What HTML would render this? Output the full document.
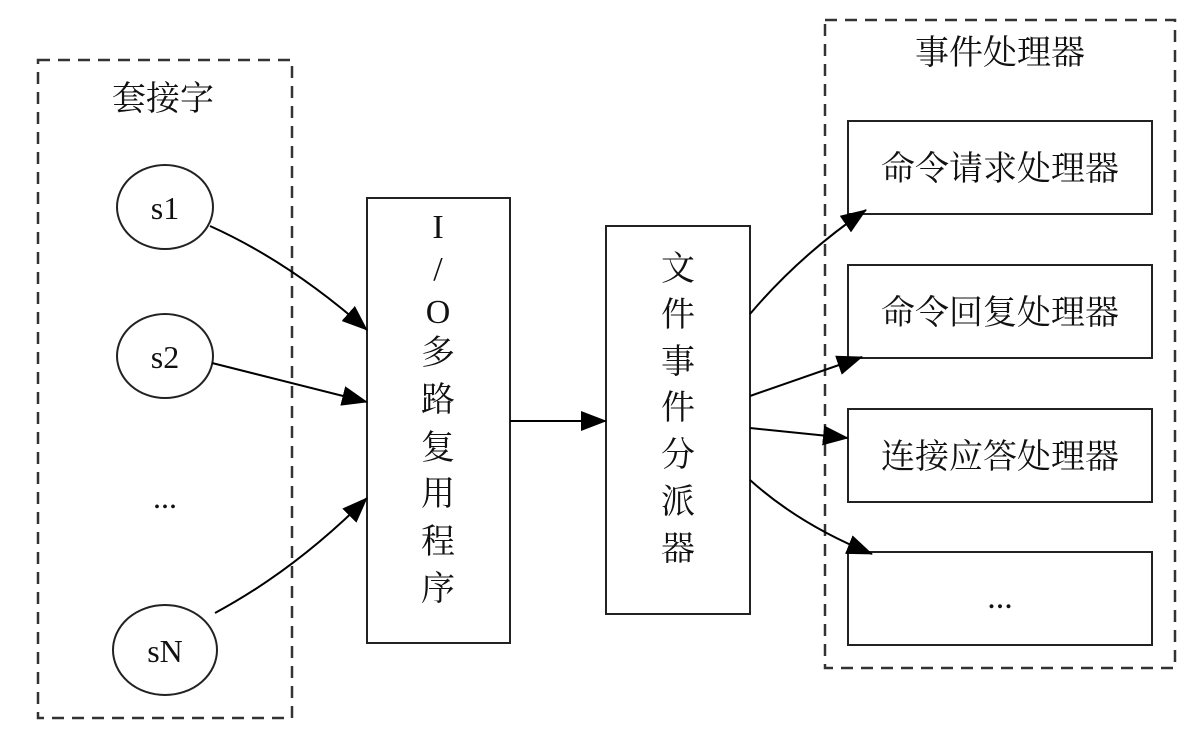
<!DOCTYPE html>
<html><head><meta charset="utf-8"><style>
html,body{margin:0;padding:0;background:#fff;}
svg{display:block;}
text{font-family:"Liberation Serif","Noto Serif CJK SC","Noto Sans CJK SC",serif;fill:#111;}
</style></head><body>
<svg width="1192" height="754" viewBox="0 0 1192 754" xmlns="http://www.w3.org/2000/svg">
<defs>
<marker id="b" markerWidth="26" markerHeight="20" refX="25" refY="10" orient="auto" markerUnits="userSpaceOnUse"><path d="M0,0 L26,10 L0,20 z" fill="#000"/></marker></defs>
<g fill="none" stroke="#333" stroke-width="2.5" stroke-dasharray="12,8">
<rect x="38" y="60" width="254" height="658"/>
<rect x="825" y="20" width="350" height="648"/>
</g>
<g fill="none" stroke="#222" stroke-width="2">
<ellipse cx="165" cy="207" rx="48" ry="42"/>
<ellipse cx="165" cy="356" rx="48" ry="42"/>
<ellipse cx="165" cy="650" rx="52" ry="45"/>
<rect x="367" y="198" width="143" height="445"/>
<rect x="606" y="226" width="144" height="388"/>
<rect x="848" y="121" width="304" height="93"/>
<rect x="848" y="265" width="304" height="93"/>
<rect x="848" y="409" width="304" height="93"/>
<rect x="848" y="552" width="304" height="93"/>
</g>
<g fill="none" stroke="#000" stroke-width="2" marker-end="url(#b)">
<path d="M210,226 Q290,262 367,330"/>
<path d="M212,363 L367,402"/>
<path d="M215,613 Q295,570 367,498"/>
<path d="M510,421 L606,421"/>
<path d="M750,314 Q800,255 866,210"/>
<path d="M750,396 L862,357"/>
<path d="M750,428 L848,438"/>
<path d="M750,480 Q800,525 872,554"/>
</g>
<g font-size="34" text-anchor="middle">
<text x="163" y="110">套接字</text>
<text x="1000" y="64">事件处理器</text>
<text x="1000" y="180">命令请求处理器</text>
<text x="1000" y="324">命令回复处理器</text>
<text x="1000" y="468">连接应答处理器</text>
<text x="1000" y="608">...</text>
<text x="438" y="238">I</text>
<text x="438" y="280">/</text>
<text x="438" y="323">O</text>
<text x="438" y="364">多</text>
<text x="438" y="411">路</text>
<text x="438" y="459">复</text>
<text x="438" y="505">用</text>
<text x="438" y="553">程</text>
<text x="438" y="600">序</text>
<text x="678" y="280">文</text>
<text x="678" y="326">件</text>
<text x="678" y="373">事</text>
<text x="678" y="419">件</text>
<text x="678" y="466">分</text>
<text x="678" y="513">派</text>
<text x="678" y="560">器</text>
</g>
<g font-size="32" text-anchor="middle">
<text x="165" y="219">s1</text>
<text x="165" y="368">s2</text>
<text x="165" y="508">...</text>
<text x="165" y="662">sN</text>
</g>
</svg>
</body></html>
